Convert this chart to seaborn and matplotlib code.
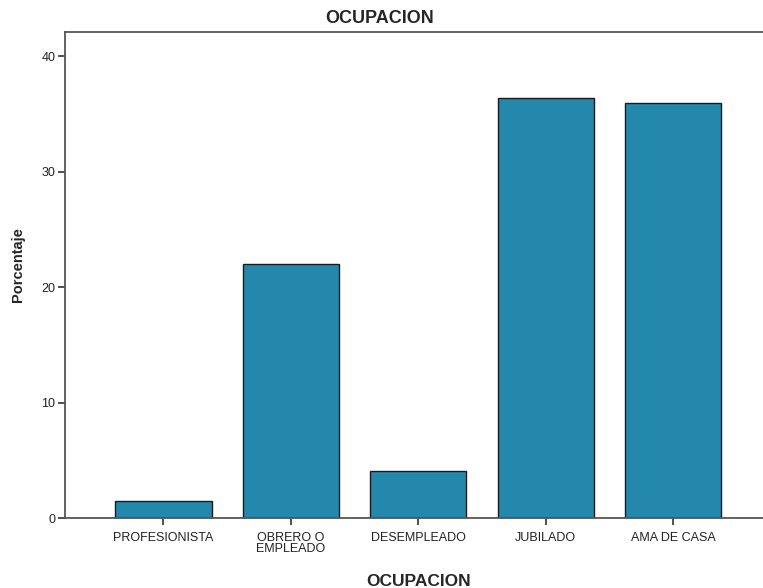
import matplotlib
matplotlib.use("Agg")
import matplotlib.pyplot as plt
import seaborn as sns
import pandas as pd

categories = ["PROFESIONISTA", "OBRERO O\nEMPLEADO", "DESEMPLEADO", "JUBILADO", "AMA DE CASA"]
porcentaje = [1.5, 22.0, 4.1, 36.4, 35.9]
yticks = [0, 10, 20, 30, 40]

df = pd.DataFrame({"OCUPACION": categories, "Porcentaje": porcentaje})

sns.set_style("white")
plt.rcParams['font.family'] = ['Liberation Sans', 'DejaVu Sans']

fig = plt.figure(figsize=(7.63, 5.88), dpi=100)
ax = fig.add_axes([0.0852, 0.1185, 0.9148, 0.8265])

sns.barplot(data=df, x="OCUPACION", y="Porcentaje", color="#2388ab",
            saturation=1, edgecolor="#1a1a1a", linewidth=1.0, width=0.754, ax=ax)

ax.set_xlim(-0.773, 4.706)
ax.set_ylim(0, 42.05)
ax.set_yticks(yticks)
ax.set_yticklabels([str(t) for t in yticks], fontsize=9, color="#222222")
ax.set_xticks(range(len(categories)))
ax.set_xticklabels(categories, fontsize=9, color="#222222", linespacing=0.88)

for side in ["left", "bottom", "top"]:
    ax.spines[side].set_visible(True)
    ax.spines[side].set_color("#555555")
    ax.spines[side].set_linewidth(1.3)
ax.spines["right"].set_visible(False)

ax.tick_params(axis="both", direction="out", length=5, width=1.2, color="#333333")
ax.tick_params(axis="x", bottom=True, pad=5)
ax.tick_params(axis="y", left=True, pad=2)

ax.set_title("OCUPACION", fontsize=13, fontweight="bold", pad=7, x=0.451)
ax.set_xlabel("OCUPACION", fontsize=12.5, fontweight="bold")
ax.xaxis.set_label_coords((419 - 65) / 698, -0.115)
ax.set_ylabel("Porcentaje", fontsize=10.5, fontweight="bold")
ax.yaxis.set_label_coords((25 - 65) / 698, (588 - 265 - 69.7) / 486)

fig.savefig("out.png", dpi=100)
